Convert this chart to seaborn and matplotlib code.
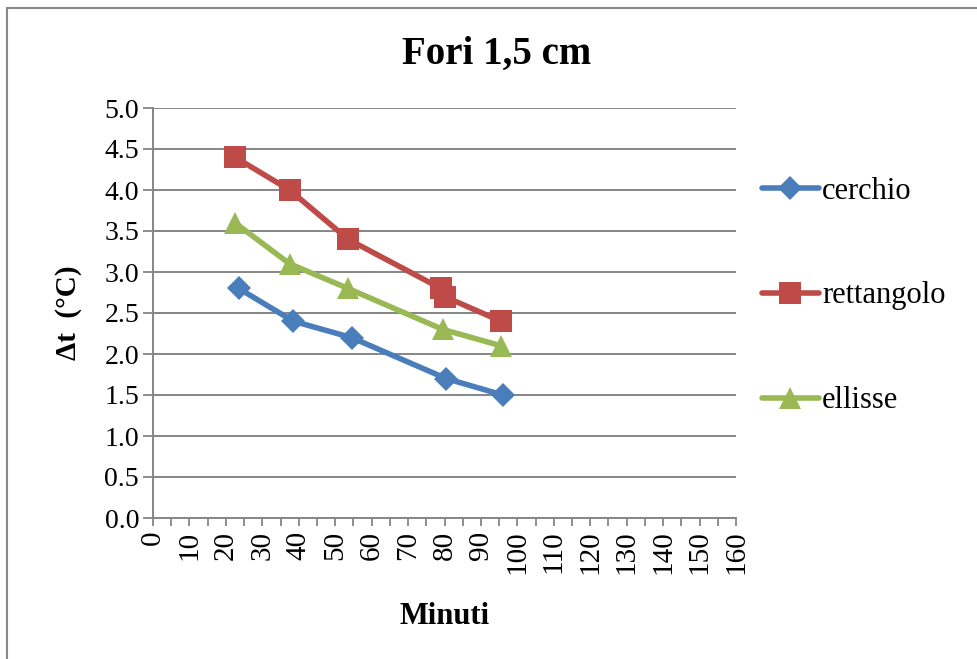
import matplotlib
matplotlib.use("Agg")
import matplotlib.pyplot as plt
import seaborn as sns
import pandas as pd
import numpy as np
from matplotlib.lines import Line2D
from matplotlib.ticker import MultipleLocator, FormatStrFormatter

# Data
cerchio_x = [23.5, 38.5, 54.5, 80.5, 96.0]
cerchio_y = [2.8, 2.4, 2.2, 1.7, 1.5]
rettangolo_x = [22.5, 37.5, 53.5, 79.0, 80.0, 95.5]
rettangolo_y = [4.4, 4.0, 3.4, 2.8, 2.7, 2.4]
ellisse_x = [22.5, 37.5, 53.5, 79.5, 95.5]
ellisse_y = [3.6, 3.1, 2.8, 2.3, 2.1]
series_names = ["cerchio", "rettangolo", "ellisse"]
x_ticks = list(range(0, 161, 10))
y_ticks = [0.0, 0.5, 1.0, 1.5, 2.0, 2.5, 3.0, 3.5, 4.0, 4.5, 5.0]

rows = []
for name, xs, ys in zip(series_names, [cerchio_x, rettangolo_x, ellisse_x],
                        [cerchio_y, rettangolo_y, ellisse_y]):
    for i, (x, y) in enumerate(zip(xs, ys)):
        rows.append({"serie": name, "Minuti": x, "dt": y, "order": i})
df = pd.DataFrame(rows)

sns.set_style("white")
plt.rcParams['font.family'] = ['Liberation Serif', 'DejaVu Serif']
plt.rcParams['text.color'] = 'black'
plt.rcParams['axes.labelcolor'] = 'black'
plt.rcParams['xtick.labelcolor'] = 'black'
plt.rcParams['ytick.labelcolor'] = 'black'

colors = {"cerchio": "#4A7EBB", "rettangolo": "#BE4B48", "ellisse": "#98B954"}
markers = {"cerchio": "D", "rettangolo": "s", "ellisse": "^"}
msizes = {"cerchio": 12, "rettangolo": 16, "ellisse": 16}
LW = 4.0

fig = plt.figure(figsize=(9.77, 6.59), dpi=100)
ax = fig.add_axes([153/977, 1-518/659, (736-153)/977, (518-108)/659])

for name in series_names:
    sub = df[df["serie"] == name]
    sns.lineplot(data=sub, x="Minuti", y="dt", ax=ax, sort=False, color=colors[name],
                 marker=markers[name], markersize=msizes[name], linewidth=LW,
                 markeredgewidth=0, label=name, legend=False, estimator=None)

ax.set_xlim(0, 160)
ax.set_ylim(0, 5)
ax.set_xticks(x_ticks)
ax.set_xticklabels([str(t) for t in x_ticks], rotation=90)
ax.xaxis.set_minor_locator(MultipleLocator(5))
ax.set_yticks(y_ticks)
ax.yaxis.set_major_formatter(FormatStrFormatter('%.1f'))
ax.tick_params(axis='y', labelsize=20, labelcolor='black', length=7, color='#868686', width=1.3, direction='out', left=True, pad=3)
ax.tick_params(axis='x', which='both', labelsize=21, labelcolor='black', length=6, color='#868686', width=1.3, direction='out', bottom=True, pad=3)
ax.grid(axis='y', color='#868686', linewidth=1.4)
ax.set_axisbelow(True)
for s in ['top', 'right']:
    ax.spines[s].set_visible(False)
for s in ['left', 'bottom']:
    ax.spines[s].set_color('#868686')
    ax.spines[s].set_linewidth(1.4)

ax.set_xlabel("Minuti", fontsize=22, fontweight='bold', labelpad=20, color='black')
ax.set_ylabel("Δt  (°C)", fontsize=21, fontweight='bold', labelpad=16, color='black')
fig.text(497/977, 1-54/659, "Fori 1,5 cm", ha='center', va='center', fontsize=28, fontweight='bold', color='black')

handles = [Line2D([0], [0], color=colors[n], marker=markers[n], markersize=msizes[n],
                  linewidth=LW, markeredgewidth=0) for n in series_names]
leg = fig.legend(handles, series_names, loc='center left', bbox_to_anchor=(762/977, 1-296/659),
                 frameon=False, fontsize=22, labelspacing=2.48, handlelength=1.85,
                 handletextpad=0.12, borderpad=0, borderaxespad=0, labelcolor='black')

# Outer border
fig.add_artist(Line2D([7/977, 7/977], [0, 1-8/659], transform=fig.transFigure, color='#888888', linewidth=1.5))
fig.add_artist(Line2D([7/977, 1], [1-8/659, 1-8/659], transform=fig.transFigure, color='#888888', linewidth=1.5))

fig.savefig("out.png", dpi=100)
